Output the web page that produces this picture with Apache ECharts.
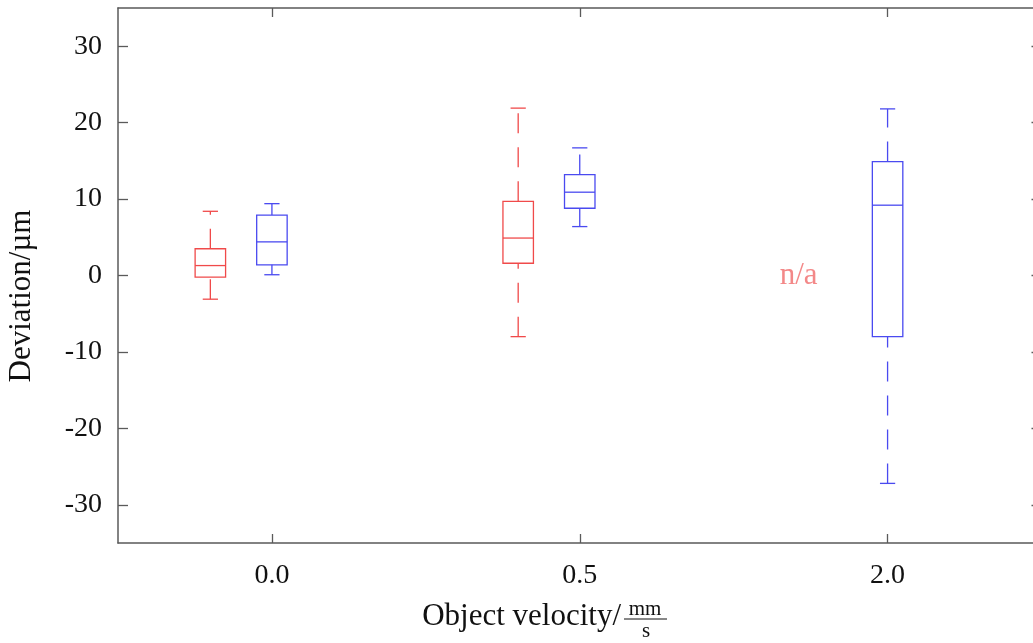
<!DOCTYPE html>
<html>
<head>
<meta charset="utf-8">
<script src="https://cdn.jsdelivr.net/npm/echarts@6/dist/echarts.min.js"></script>
<style>
  html, body { margin: 0; padding: 0; background: #fff; }
  #chart { width: 1033px; height: 643px; }
</style>
</head>
<body>
<div id="chart"></div>
<script>
// categories on the x axis
const categories = ['0.0', '0.5', '2.0']
// box stats per category: [min, q1, median, q3, max]
const redStats = [
  [-3.1, -0.2, 1.3, 3.5, 8.4],
  [-8.0, 1.6, 4.9, 9.7, 21.9],
  null,
]
const blueStats = [
  [0.1, 1.4, 4.4, 7.9, 9.4],
  [6.4, 8.8, 10.9, 13.2, 16.7],
  [-27.2, -8.0, 9.2, 14.9, 21.8],
]
// placeholder where the red data is missing
const naCategory = '2.0'
const naValue = 0
const naText = 'n/a'
const yTicks = [-30, -20, -10, 0, 10, 20, 30]

const RED = '#f04a4a'
const BLUE = '#4a4af0'
const AXIS = '#5a5a5a'
const FONT = '"Liberation Serif", "DejaVu Serif", serif'

const toData = stats => stats
  .map((s, i) => (s ? [i].concat(s) : null))
  .filter(d => d)

const boxRenderer = (color, offset) => (params, api) => {
  const idx = api.value(0)
  const band = api.size([1, 0])[0]
  const cx = api.coord([idx, 0])[0] + offset * band
  const w = band * 0.099
  const cap = w / 2
  const y = k => api.coord([idx, api.value(k)])[1]
  const yMin = y(1), yQ1 = y(2), yMed = y(3), yQ3 = y(4), yMax = y(5)
  const line = { stroke: color, lineWidth: 1.3 }
  const dash = { stroke: color, lineWidth: 1.3, lineDash: [20, 14] }
  return {
    type: 'group',
    children: [
      { type: 'rect', shape: { x: cx - w / 2, y: yQ3, width: w, height: yQ1 - yQ3 }, style: { fill: null, stroke: color, lineWidth: 1.3 } },
      { type: 'line', shape: { x1: cx - w / 2, y1: yMed, x2: cx + w / 2, y2: yMed }, style: line },
      // whiskers drawn bottom to top so the dash starts at the lower end
      { type: 'line', shape: { x1: cx, y1: yMin, x2: cx, y2: yQ1 }, style: dash },
      { type: 'line', shape: { x1: cx, y1: yQ3, x2: cx, y2: yMax }, style: dash },
      { type: 'line', shape: { x1: cx - cap / 2, y1: yMin, x2: cx + cap / 2, y2: yMin }, style: line },
      { type: 'line', shape: { x1: cx - cap / 2, y1: yMax, x2: cx + cap / 2, y2: yMax }, style: line },
    ],
  }
}

const chart = echarts.init(document.getElementById('chart'))

const xBase = {
  type: 'category',
  data: categories,
  boundaryGap: true,
  axisLine: { onZero: false, lineStyle: { color: AXIS, width: 1.5 } },
  axisTick: { show: true, interval: 0, inside: true, alignWithLabel: true, length: 9, lineStyle: { color: AXIS, width: 1.3 } },
  splitLine: { show: false },
}
const yBase = {
  type: 'value',
  min: -35,
  max: 35,
  axisLine: { show: true, onZero: false, lineStyle: { color: AXIS, width: 1.5 } },
  axisTick: { show: true, inside: true, length: 10, customValues: yTicks, lineStyle: { color: AXIS, width: 1.3 } },
  splitLine: { show: false },
}

chart.setOption({
  animation: false,
  backgroundColor: '#fff',
  // plot box runs past the right edge of the window
  grid: { left: 118, width: 923.5, top: 8, bottom: 100, outerBoundsMode: 'none', containLabel: false },
  xAxis: [
    Object.assign({}, xBase, {
      position: 'bottom',
      axisLabel: { margin: 19, color: '#111', fontFamily: FONT, fontSize: 28 },
    }),
    Object.assign({}, xBase, { position: 'top', axisLabel: { show: false } }),
  ],
  yAxis: [
    Object.assign({}, yBase, {
      position: 'left',
      axisLabel: { margin: 16, color: '#111', fontFamily: FONT, fontSize: 28, customValues: yTicks },
    }),
    Object.assign({}, yBase, { position: 'right', axisLabel: { show: false } }),
  ],
  series: [
    {
      type: 'custom',
      name: 'red',
      renderItem: boxRenderer(RED, -0.2),
      encode: { x: 0, y: [1, 2, 3, 4, 5] },
      data: toData(redStats),
    },
    {
      type: 'custom',
      name: 'blue',
      renderItem: boxRenderer(BLUE, 0),
      encode: { x: 0, y: [1, 2, 3, 4, 5] },
      data: toData(blueStats),
    },
    {
      type: 'scatter',
      symbolSize: 0,
      data: [[naCategory, naValue]],
      label: {
        show: true,
        position: 'inside',
        offset: [-89, 0],
        formatter: naText,
        color: '#f06a6a',
        fontFamily: FONT,
        fontSize: 31,
      },
    },
  ],
  graphic: [
    {
      type: 'text',
      x: 22,
      y: 296,
      rotation: Math.PI / 2,
      style: { text: 'Deviation/µm', font: '31px ' + FONT, fill: '#111', align: 'center', verticalAlign: 'middle' },
    },
    {
      type: 'text',
      x: 621,
      y: 617,
      style: { text: 'Object velocity/', font: '31px ' + FONT, fill: '#111', align: 'right', verticalAlign: 'middle' },
    },
    {
      type: 'text',
      x: 645,
      y: 609,
      style: { text: 'mm', font: '21px ' + FONT, fill: '#111', align: 'center', verticalAlign: 'middle' },
    },
    {
      type: 'line',
      shape: { x1: 624, y1: 619, x2: 667, y2: 619 },
      style: { stroke: '#111', lineWidth: 1 },
    },
    {
      type: 'text',
      x: 646,
      y: 631,
      style: { text: 's', font: '21px ' + FONT, fill: '#111', align: 'center', verticalAlign: 'middle' },
    },
  ],
})
</script>
</body>
</html>
